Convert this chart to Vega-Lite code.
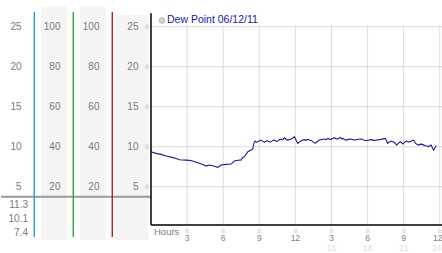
{
  "$schema": "https://vega.github.io/schema/vega-lite/v6.json",
  "background": "white",
  "padding": 0,
  "spacing": 0,
  "bounds": "flush",
  "config": {"view": {"stroke": null}, "font": "Liberation Sans"},
  "datasets": {
    "columns": [{"col": "a"}, {"col": "b"}, {"col": "c"}, {"col": "d"}],
    "collabels": [
      {"col": "a", "v": 25, "label": "25"}, {"col": "a", "v": 20, "label": "20"}, {"col": "a", "v": 15, "label": "15"}, {"col": "a", "v": 10, "label": "10"}, {"col": "a", "v": 5, "label": "5"},
      {"col": "b", "v": 25, "label": "100"}, {"col": "b", "v": 20, "label": "80"}, {"col": "b", "v": 15, "label": "60"}, {"col": "b", "v": 10, "label": "40"}, {"col": "b", "v": 5, "label": "20"},
      {"col": "c", "v": 25, "label": "100"}, {"col": "c", "v": 20, "label": "80"}, {"col": "c", "v": 15, "label": "60"}, {"col": "c", "v": 10, "label": "40"}, {"col": "c", "v": 5, "label": "20"},
      {"col": "d", "v": 25, "label": "25"}, {"col": "d", "v": 20, "label": "20"}, {"col": "d", "v": 15, "label": "15"}, {"col": "d", "v": 10, "label": "10"}, {"col": "d", "v": 5, "label": "5"}
    ],
    "stats": [{"col": "a", "stat": "max", "value": "11.3"}, {"col": "a", "stat": "mean", "value": "10.1"}, {"col": "a", "stat": "min", "value": "7.4"}],
    "series": [{"name": "Dew Point 06/12/11", "axis": "Hours"}],
    "yt": [{"v": 5}, {"v": 10}, {"v": 15}, {"v": 20}, {"v": 25}],
    "xt": [{"h": 3, "clock": "3"}, {"h": 6, "clock": "6"}, {"h": 9, "clock": "9"}, {"h": 12, "clock": "12"}, {"h": 15, "clock": "3"}, {"h": 18, "clock": "6"}, {"h": 21, "clock": "9"}, {"h": 24, "clock": "12"}],
    "dew": [
      {"h": 0, "v": 9.38}, {"h": 0.42, "v": 9.17}, {"h": 0.84, "v": 9.04}, {"h": 1.26, "v": 8.83}, {"h": 1.67, "v": 8.7}, {"h": 2.09, "v": 8.54}, {"h": 2.36, "v": 8.38}, {"h": 2.92, "v": 8.33}, {"h": 3.19, "v": 8.29}, {"h": 3.47, "v": 8.21}, {"h": 3.89, "v": 8.0}, {"h": 4.31, "v": 7.79}, {"h": 4.58, "v": 7.58}, {"h": 4.85, "v": 7.71}, {"h": 5.14, "v": 7.63}, {"h": 5.55, "v": 7.42}, {"h": 5.83, "v": 7.71}, {"h": 6.24, "v": 7.79}, {"h": 6.66, "v": 7.83}, {"h": 6.93, "v": 8.21}, {"h": 7.35, "v": 8.33}, {"h": 7.5, "v": 8.35}, {"h": 7.63, "v": 8.7}, {"h": 7.76, "v": 8.75}, {"h": 8.05, "v": 9.38}, {"h": 8.32, "v": 9.58}, {"h": 8.45, "v": 9.7}, {"h": 8.55, "v": 10.42},
      {"h": 8.65, "v": 10.71}, {"h": 8.77, "v": 10.58}, {"h": 8.88, "v": 10.63}, {"h": 9.02, "v": 10.75}, {"h": 9.15, "v": 10.83}, {"h": 9.29, "v": 10.67}, {"h": 9.43, "v": 10.54}, {"h": 9.57, "v": 10.7}, {"h": 9.71, "v": 10.75}, {"h": 9.85, "v": 10.6}, {"h": 9.98, "v": 10.63}, {"h": 10.12, "v": 10.79}, {"h": 10.26, "v": 10.83}, {"h": 10.4, "v": 10.67}, {"h": 10.54, "v": 10.71}, {"h": 10.68, "v": 10.88}, {"h": 10.81, "v": 10.96}, {"h": 10.95, "v": 10.85}, {"h": 11.09, "v": 11.13}, {"h": 11.23, "v": 10.92}, {"h": 11.37, "v": 10.83}, {"h": 11.51, "v": 10.9}, {"h": 11.65, "v": 10.96}, {"h": 11.78, "v": 11.08}, {"h": 11.92, "v": 11.25}, {"h": 12.06, "v": 10.8}, {"h": 12.2, "v": 10.42}, {"h": 12.34, "v": 10.6}, {"h": 12.48, "v": 10.75}, {"h": 12.62, "v": 10.83}, {"h": 12.75, "v": 10.88}, {"h": 12.89, "v": 10.8}, {"h": 13.03, "v": 10.92}, {"h": 13.17, "v": 10.85}, {"h": 13.31, "v": 10.79}, {"h": 13.47, "v": 10.6}, {"h": 13.64, "v": 10.42}, {"h": 13.82, "v": 10.65}, {"h": 14.0, "v": 10.83}, {"h": 14.2, "v": 10.9}, {"h": 14.41, "v": 10.96}, {"h": 14.55, "v": 10.88}, {"h": 14.7, "v": 11.04}, {"h": 14.84, "v": 10.95}, {"h": 14.97, "v": 10.92}, {"h": 15.11, "v": 11.02}, {"h": 15.25, "v": 11.13}, {"h": 15.39, "v": 10.98}, {"h": 15.53, "v": 10.96}, {"h": 15.64, "v": 11.1}, {"h": 15.74, "v": 11.17}, {"h": 15.84, "v": 10.98}, {"h": 15.94, "v": 11.04}, {"h": 16.08, "v": 10.9}, {"h": 16.22, "v": 10.83}, {"h": 16.42, "v": 10.92}, {"h": 16.63, "v": 10.96}, {"h": 16.84, "v": 10.85}, {"h": 17.05, "v": 10.88}, {"h": 17.26, "v": 10.94}, {"h": 17.47, "v": 10.96}, {"h": 17.67, "v": 10.85}, {"h": 17.88, "v": 10.75}, {"h": 18.09, "v": 10.84}, {"h": 18.3, "v": 10.88}, {"h": 18.5, "v": 10.8}, {"h": 18.71, "v": 10.83}, {"h": 18.92, "v": 10.88}, {"h": 19.13, "v": 10.92}, {"h": 19.3, "v": 10.98}, {"h": 19.48, "v": 11.04}, {"h": 19.58, "v": 10.7}, {"h": 19.68, "v": 10.42}, {"h": 19.82, "v": 10.6}, {"h": 19.96, "v": 10.71}, {"h": 20.1, "v": 10.62}, {"h": 20.23, "v": 10.54}, {"h": 20.33, "v": 10.35}, {"h": 20.43, "v": 10.21}, {"h": 20.57, "v": 10.45}, {"h": 20.71, "v": 10.63}, {"h": 20.82, "v": 10.5}, {"h": 20.93, "v": 10.33}, {"h": 21.07, "v": 10.55}, {"h": 21.21, "v": 10.71}, {"h": 21.38, "v": 10.6}, {"h": 21.54, "v": 10.63}, {"h": 21.68, "v": 10.75}, {"h": 21.81, "v": 10.83}, {"h": 21.9, "v": 10.65}, {"h": 21.98, "v": 10.42}, {"h": 22.12, "v": 10.3}, {"h": 22.26, "v": 10.21}, {"h": 22.4, "v": 10.32}, {"h": 22.54, "v": 10.29}, {"h": 22.68, "v": 10.2}, {"h": 22.81, "v": 10.13}, {"h": 22.95, "v": 10.08}, {"h": 23.09, "v": 10.0}, {"h": 23.18, "v": 10.12}, {"h": 23.28, "v": 10.21}, {"h": 23.38, "v": 9.9}, {"h": 23.48, "v": 9.58}, {"h": 23.59, "v": 9.85}, {"h": 23.7, "v": 10.13}
    ]
  },
  "hconcat": [
    {
      "width": 150,
      "height": 240,
      "layer": [
        {
          "data": {"name": "columns"},
          "transform": [{"filter": "datum.col === 'b' || datum.col === 'c'"}],
          "mark": {"type": "bar", "color": "#f4f4f4"},
          "encoding": {
            "x": {"field": "col", "type": "nominal", "scale": {"type": "band", "domain": ["a", "b", "c", "d"], "paddingInner": 0.3333, "paddingOuter": 0.09, "align": 0.143, "round": false}, "axis": null},
            "y": {"datum": 27.5, "type": "quantitative", "scale": {"domain": [-1.66, 28.34], "nice": false, "zero": false}, "axis": null},
            "y2": {"datum": -1.66}
          }
        },
        {
          "data": {"name": "columns"},
          "transform": [{"filter": "datum.col === 'd'"}],
          "mark": {"type": "bar", "color": "#f4f4f4", "width": 33},
          "encoding": {
            "x": {"field": "col", "type": "nominal", "scale": {"type": "band", "domain": ["a", "b", "c", "d"], "paddingInner": 0.3333, "paddingOuter": 0.09, "align": 0.143, "round": false}, "axis": null},
            "y": {"datum": 26.46, "type": "quantitative", "scale": {"domain": [-1.66, 28.34], "nice": false, "zero": false}, "axis": null},
            "y2": {"datum": -1.66}
          }
        },
        {
          "data": {"name": "stats"},
          "transform": [{"filter": "datum.stat === 'max'"}],
          "mark": {"type": "rule", "color": "#9a9a9a", "strokeWidth": 2},
          "encoding": {
            "y": {"datum": 3.75, "type": "quantitative", "scale": {"domain": [-1.66, 28.34], "nice": false, "zero": false}, "axis": null}
          }
        },
        {
          "data": {"name": "columns"},
          "transform": [{"filter": "datum.col !== 'd'"}],
          "mark": {"type": "rule", "strokeWidth": 1.5, "xOffset": 6.3},
          "encoding": {
            "x": {"field": "col", "type": "nominal", "bandPosition": 1, "scale": {"type": "band", "domain": ["a", "b", "c", "d"], "paddingInner": 0.3333, "paddingOuter": 0.09, "align": 0.143, "round": false}, "axis": null},
            "y": {"datum": 26.84, "type": "quantitative", "scale": {"domain": [-1.66, 28.34], "nice": false, "zero": false}, "axis": null},
            "y2": {"datum": -1.29},
            "color": {"field": "col", "type": "nominal", "scale": {"domain": ["a", "b", "c"], "range": ["#2ea3c9", "#3caa3c", "#aa2a2a"]}, "legend": null}
          }
        },
        {
          "data": {"name": "collabels"},
          "mark": {"type": "text", "align": "right", "baseline": "middle", "dx": -6.5, "fontSize": 10, "color": "#7a7a7a"},
          "encoding": {
            "x": {"field": "col", "type": "nominal", "bandPosition": 1, "scale": {"type": "band", "domain": ["a", "b", "c", "d"], "paddingInner": 0.3333, "paddingOuter": 0.09, "align": 0.143, "round": false}, "axis": null},
            "y": {"field": "v", "type": "quantitative", "scale": {"domain": [-1.66, 28.34], "nice": false, "zero": false}, "axis": null},
            "text": {"field": "label"}
          }
        },
        {
          "data": {"name": "stats"},
          "transform": [{"filter": "datum.stat === 'max'"}],
          "mark": {"type": "text", "align": "right", "baseline": "middle", "dy": 8.5, "fontSize": 10, "color": "#7a7a7a"},
          "encoding": {
            "x": {"field": "col", "type": "nominal", "bandPosition": 1, "scale": {"type": "band", "domain": ["a", "b", "c", "d"], "paddingInner": 0.3333, "paddingOuter": 0.09, "align": 0.143, "round": false}, "axis": null},
            "y": {"datum": 3.75, "type": "quantitative", "scale": {"domain": [-1.66, 28.34], "nice": false, "zero": false}, "axis": null},
            "text": {"field": "value"}
          }
        },
        {
          "data": {"name": "stats"},
          "transform": [{"filter": "datum.stat === 'mean'"}],
          "mark": {"type": "text", "align": "right", "baseline": "middle", "dy": 21.8, "fontSize": 10, "color": "#7a7a7a"},
          "encoding": {
            "x": {"field": "col", "type": "nominal", "bandPosition": 1, "scale": {"type": "band", "domain": ["a", "b", "c", "d"], "paddingInner": 0.3333, "paddingOuter": 0.09, "align": 0.143, "round": false}, "axis": null},
            "y": {"datum": 3.75, "type": "quantitative", "scale": {"domain": [-1.66, 28.34], "nice": false, "zero": false}, "axis": null},
            "text": {"field": "value"}
          }
        },
        {
          "data": {"name": "stats"},
          "transform": [{"filter": "datum.stat === 'min'"}],
          "mark": {"type": "text", "align": "right", "baseline": "middle", "dy": 36, "fontSize": 10, "color": "#7a7a7a"},
          "encoding": {
            "x": {"field": "col", "type": "nominal", "bandPosition": 1, "scale": {"type": "band", "domain": ["a", "b", "c", "d"], "paddingInner": 0.3333, "paddingOuter": 0.09, "align": 0.143, "round": false}, "axis": null},
            "y": {"datum": 3.75, "type": "quantitative", "scale": {"domain": [-1.66, 28.34], "nice": false, "zero": false}, "axis": null},
            "text": {"field": "value"}
          }
        }
      ]
    },
    {
      "width": 292,
      "height": 240,
      "layer": [
        {
          "data": {"name": "xt"},
          "mark": {"type": "rule", "color": "#dcdcdc", "strokeWidth": 1},
          "encoding": {
            "x": {"field": "h", "type": "quantitative", "scale": {"domain": [0, 24.27], "nice": false, "zero": false}, "axis": null},
            "y": {"datum": 0.21, "type": "quantitative", "scale": {"domain": [-1.66, 28.34], "nice": false, "zero": false}, "axis": null},
            "y2": {"datum": 25.2}
          }
        },
        {
          "data": {"name": "yt"},
          "mark": {"type": "rule", "color": "#dcdcdc", "strokeWidth": 1},
          "encoding": {
            "y": {"field": "v", "type": "quantitative", "scale": {"domain": [-1.66, 28.34], "nice": false, "zero": false}, "axis": null}
          }
        },
        {
          "data": {"name": "dew"},
          "mark": {"type": "line", "strokeWidth": 1.1, "color": "#1a1a90"},
          "encoding": {
            "x": {"field": "h", "type": "quantitative", "scale": {"domain": [0, 24.27], "nice": false, "zero": false}, "axis": null},
            "y": {"field": "v", "type": "quantitative", "scale": {"domain": [-1.66, 28.34], "nice": false, "zero": false}, "axis": null}
          }
        },
        {
          "data": {"name": "series"},
          "mark": {"type": "rule", "color": "#000000", "strokeWidth": 1.5},
          "encoding": {
            "x": {"datum": 0, "type": "quantitative", "scale": {"domain": [0, 24.27], "nice": false, "zero": false}, "axis": null},
            "y": {"datum": 0.21, "type": "quantitative", "scale": {"domain": [-1.66, 28.34], "nice": false, "zero": false}, "axis": null},
            "y2": {"datum": 26.68}
          }
        },
        {
          "data": {"name": "series"},
          "mark": {"type": "rule", "color": "#000000", "strokeWidth": 1.5},
          "encoding": {
            "x": {"datum": 0, "type": "quantitative", "scale": {"domain": [0, 24.27], "nice": false, "zero": false}, "axis": null},
            "x2": {"datum": 24.27},
            "y": {"datum": 0.21, "type": "quantitative", "scale": {"domain": [-1.66, 28.34], "nice": false, "zero": false}, "axis": null}
          }
        },
        {
          "data": {"name": "yt"},
          "mark": {"type": "text", "text": "※", "font": "Noto Sans CJK JP", "fontSize": 5.5, "color": "#a0a0a0", "align": "center", "baseline": "middle", "dx": -4},
          "encoding": {
            "x": {"datum": 0, "type": "quantitative", "scale": {"domain": [0, 24.27], "nice": false, "zero": false}, "axis": null},
            "y": {"field": "v", "type": "quantitative", "scale": {"domain": [-1.66, 28.34], "nice": false, "zero": false}, "axis": null}
          }
        },
        {
          "data": {"name": "xt"},
          "mark": {"type": "text", "text": "※", "font": "Noto Sans CJK JP", "fontSize": 5.5, "color": "#a0a0a0", "align": "center", "baseline": "middle", "dy": 5.5},
          "encoding": {
            "x": {"field": "h", "type": "quantitative", "scale": {"domain": [0, 24.27], "nice": false, "zero": false}, "axis": null},
            "y": {"datum": 0.21, "type": "quantitative", "scale": {"domain": [-1.66, 28.34], "nice": false, "zero": false}, "axis": null}
          }
        },
        {
          "data": {"name": "xt"},
          "transform": [{"filter": "datum.h < 24"}],
          "mark": {"type": "text", "fontSize": 8.5, "color": "#808080", "align": "center", "baseline": "middle", "dy": 13},
          "encoding": {
            "x": {"field": "h", "type": "quantitative", "scale": {"domain": [0, 24.27], "nice": false, "zero": false}, "axis": null},
            "y": {"datum": 0.21, "type": "quantitative", "scale": {"domain": [-1.66, 28.34], "nice": false, "zero": false}, "axis": null},
            "text": {"field": "clock"}
          }
        },
        {
          "data": {"name": "xt"},
          "transform": [{"filter": "datum.h === 24"}],
          "mark": {"type": "text", "fontSize": 8.5, "color": "#808080", "align": "center", "baseline": "middle", "dy": 13, "dx": -2},
          "encoding": {
            "x": {"field": "h", "type": "quantitative", "scale": {"domain": [0, 24.27], "nice": false, "zero": false}, "axis": null},
            "y": {"datum": 0.21, "type": "quantitative", "scale": {"domain": [-1.66, 28.34], "nice": false, "zero": false}, "axis": null},
            "text": {"field": "clock"}
          }
        },
        {
          "data": {"name": "xt"},
          "transform": [{"filter": "datum.h > 12 && datum.h < 24"}],
          "mark": {"type": "text", "fontSize": 8.5, "color": "#dedede", "align": "center", "baseline": "middle", "dy": 22.5},
          "encoding": {
            "x": {"field": "h", "type": "quantitative", "scale": {"domain": [0, 24.27], "nice": false, "zero": false}, "axis": null},
            "y": {"datum": 0.21, "type": "quantitative", "scale": {"domain": [-1.66, 28.34], "nice": false, "zero": false}, "axis": null},
            "text": {"field": "h"}
          }
        },
        {
          "data": {"name": "xt"},
          "transform": [{"filter": "datum.h === 24"}],
          "mark": {"type": "text", "fontSize": 8.5, "color": "#dedede", "align": "center", "baseline": "middle", "dy": 22.5, "dx": -3},
          "encoding": {
            "x": {"field": "h", "type": "quantitative", "scale": {"domain": [0, 24.27], "nice": false, "zero": false}, "axis": null},
            "y": {"datum": 0.21, "type": "quantitative", "scale": {"domain": [-1.66, 28.34], "nice": false, "zero": false}, "axis": null},
            "text": {"field": "h"}
          }
        },
        {
          "data": {"name": "series"},
          "mark": {"type": "text", "align": "left", "baseline": "middle", "dx": 3, "dy": 6.5, "fontSize": 9.5, "color": "#808080"},
          "encoding": {
            "x": {"datum": 0, "type": "quantitative", "scale": {"domain": [0, 24.27], "nice": false, "zero": false}, "axis": null},
            "y": {"datum": 0.21, "type": "quantitative", "scale": {"domain": [-1.66, 28.34], "nice": false, "zero": false}, "axis": null},
            "text": {"field": "axis"}
          }
        },
        {
          "data": {"name": "series"},
          "mark": {"type": "point", "shape": "circle", "filled": true, "size": 30, "fill": "#c4c4c4", "stroke": "#8a8a8a", "strokeWidth": 1, "xOffset": 11},
          "encoding": {
            "x": {"datum": 0, "type": "quantitative", "scale": {"domain": [0, 24.27], "nice": false, "zero": false}, "axis": null},
            "y": {"datum": 25.78, "type": "quantitative", "scale": {"domain": [-1.66, 28.34], "nice": false, "zero": false}, "axis": null}
          }
        },
        {
          "data": {"name": "series"},
          "mark": {"type": "text", "align": "left", "baseline": "middle", "dx": 16, "fontSize": 10.5, "color": "#2020a8"},
          "encoding": {
            "x": {"datum": 0, "type": "quantitative", "scale": {"domain": [0, 24.27], "nice": false, "zero": false}, "axis": null},
            "y": {"datum": 25.78, "type": "quantitative", "scale": {"domain": [-1.66, 28.34], "nice": false, "zero": false}, "axis": null},
            "text": {"field": "name"}
          }
        }
      ]
    }
  ]
}
